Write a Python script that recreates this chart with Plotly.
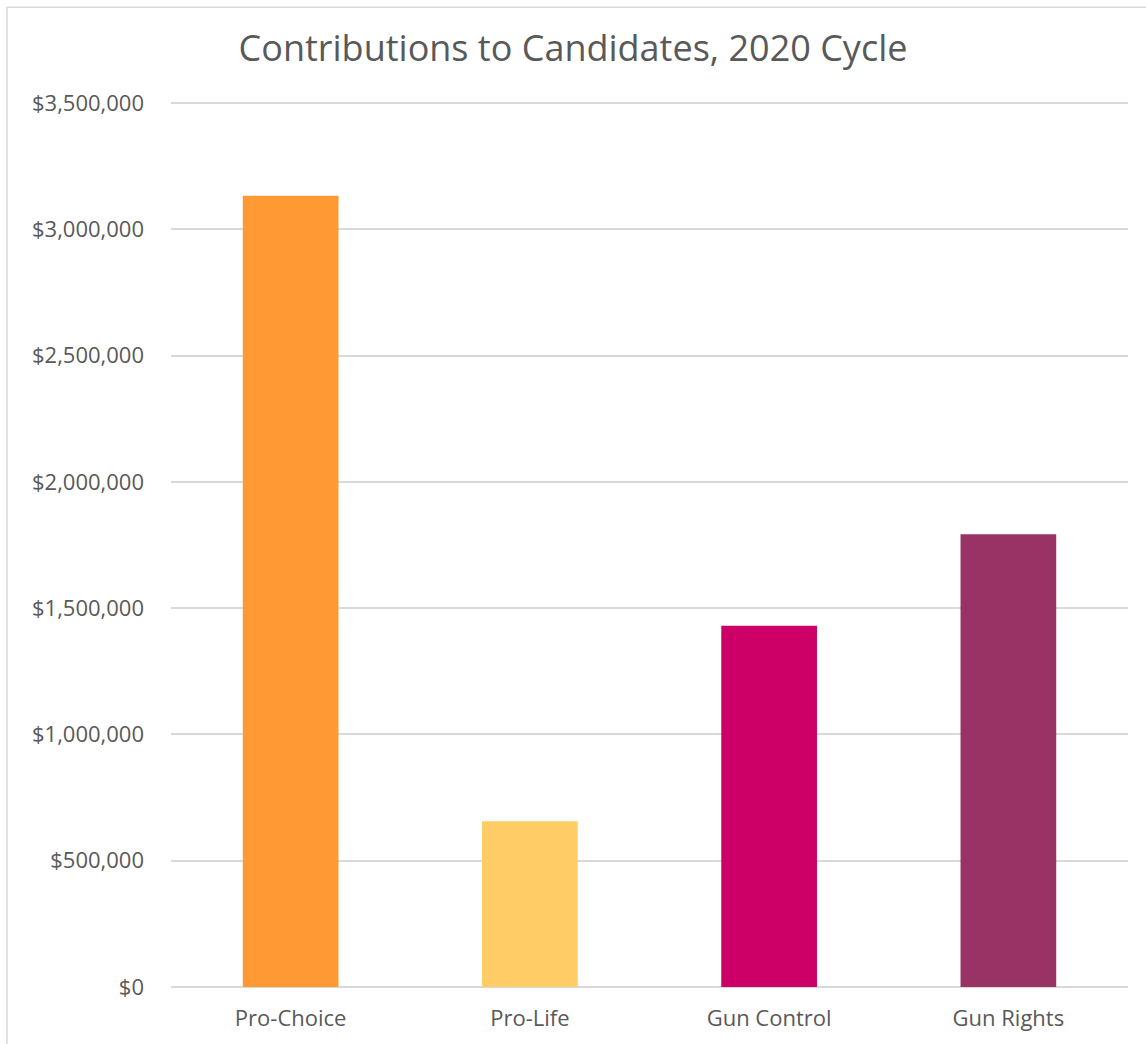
import plotly.graph_objects as go

categories = ["Pro-Choice", "Pro-Life", "Gun Control", "Gun Rights"]
values = [3133000, 656000, 1430000, 1793000]
colors = ["#FF9933", "#FFCC66", "#CC0066", "#993366"]
tick_vals = [0, 500000, 1000000, 1500000, 2000000, 2500000, 3000000, 3500000]
tick_text = ["$0", "$500,000", "$1,000,000", "$1,500,000", "$2,000,000",
             "$2,500,000", "$3,000,000", "$3,500,000"]

fig = go.Figure(go.Bar(x=categories, y=values, marker_color=colors,
                       marker_line_width=0, width=0.4))

font = "Open Sans, Noto Sans, sans-serif"
fig.update_layout(
    width=1146, height=1044,
    margin=dict(l=171, r=18, t=102, b=55),
    paper_bgcolor="white", plot_bgcolor="white",
    font=dict(family=font, color="#595959", size=22),
    title=dict(text="Contributions to Candidates, 2020 Cycle",
               x=0.5, xanchor="center", y=1 - 48 / 1044, yanchor="middle",
               font=dict(size=36, color="#595959", family=font)),
    showlegend=False,
    xaxis=dict(showgrid=False, showline=False, ticks="", tickfont=dict(size=22),
               ticklabelstandoff=16),
    yaxis=dict(range=[0, 3504000], tickvals=tick_vals, ticktext=tick_text,
               showgrid=True, gridcolor="#D9D9D9", gridwidth=1.5,
               zeroline=True, zerolinecolor="#D9D9D9", zerolinewidth=1.5,
               showline=False, ticks="", ticklabelstandoff=26,
               tickfont=dict(size=22)),
    shapes=[dict(type="rect", xref="paper", yref="paper",
                 x0=(7 - 171) / 957, x1=1.2, y0=-0.2, y1=1 + (102 - 7) / 887,
                 line=dict(color="#D9D9D9", width=1.5), layer="below")],
)
fig.write_html("out.html")
